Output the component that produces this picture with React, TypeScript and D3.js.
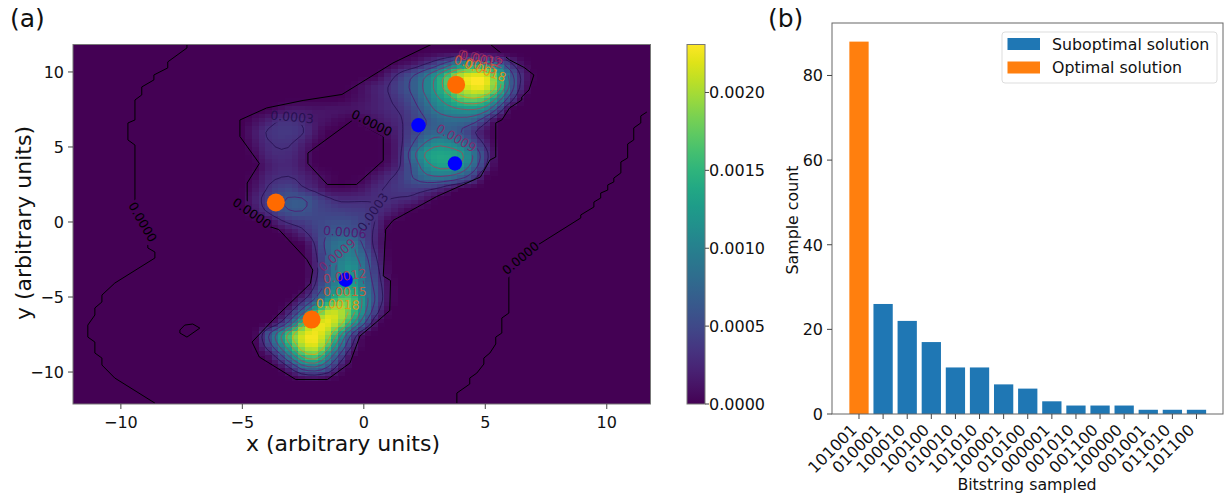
import React from "react";
import * as d3 from "d3";

const W = 1226, H = 495;

// ---------- panel (b) data ----------
const bitstrings = ["101001","010001","100010","100100","010010","101010","100001","010100","000001","001010","001100","100000","001001","011010","101100"];
const sampleCounts = [88,26,22,17,11,11,7,6,3,2,2,2,1,1,1];
const countTicks = [0,20,40,60,80];
const legendLabels = ["Suboptimal solution","Optimal solution"];

// ---------- panel (a) data: density, units of 1e-5 ----------
const gridX = [-6,-5.5,-5,-4.5,-4,-3.5,-3,-2.5,-2,-1.5,-1,-.5,0,.5,1,1.5,2,2.5,3,3.5,4,4.5,5,5.5,6,6.5,7,7.5];
const gridY = [12,11.25,10.5,9.75,9,8.25,7.5,6.75,6,5.25,4.5,3.75,3,2.25,1.5,.75,0,-.75,-1.5,-2.25,-3,-3.75,-4.5,-5.25,-6,-6.75,-7.5,-8.25,-9,-9.75,-10.5,-11.25];
const density = [
[0,0,0,0,0,0,0,0,0,0,0,0,0,0,0,0,0,0,2,3,3,3,2,0,0,0,0,0],
[0,0,0,0,0,0,0,0,0,0,0,0,0,0,0,0,0,3,6,8,10,10,8,5,2,0,0,0],
[0,0,0,0,0,0,0,0,0,0,0,0,0,0,0,8,15,30,50,80,110,125,120,85,40,10,0,0],
[0,0,0,0,0,0,0,0,0,0,0,0,0,2,18,38,58,85,120,165,205,222,215,160,80,25,2,0],
[0,0,0,0,0,0,0,0,0,0,0,2,10,20,30,48,65,95,130,170,205,225,220,170,85,22,0,0],
[0,0,0,0,0,0,0,0,0,0,1,6,12,20,28,40,58,85,115,140,170,180,165,115,50,5,0,0],
[0,0,0,0,1,8,14,14,12,12,12,12,15,20,26,32,48,70,95,110,118,120,105,55,5,0,0,0],
[0,0,0,8,18,30,31,26,15,10,5,1,5,12,20,28,42,58,72,80,80,72,40,4,0,0,0,0],
[0,0,2,16,31,37,37,31,14,2,0,0,0,2,10,26,46,65,75,72,60,35,12,1,0,0,0,0],
[0,0,0,12,27,32,31,20,5,0,0,0,0,0,6,25,58,90,112,108,90,58,24,1,0,0,0,0],
[0,0,0,6,23,28,26,15,1,0,0,0,0,0,6,28,78,122,136,134,126,88,40,3,0,0,0,0],
[0,0,0,1,16,24,24,14,2,0,0,0,0,1,10,30,65,105,126,128,114,78,32,0,0,0,0,0],
[0,0,0,6,22,29,30,22,12,5,1,1,3,14,26,38,60,80,88,84,70,42,5,0,0,0,0,0],
[0,0,1,12,30,42,45,32,22,8,6,7,14,26,32,38,40,38,30,16,3,0,0,0,0,0,0,0],
[0,0,2,20,38,55,63,62,48,35,27,27,28,29,30,27,24,12,2,0,0,0,0,0,0,0,0,0],
[0,0,0,14,32,50,60,60,50,45,42,40,38,30,22,10,2,0,0,0,0,0,0,0,0,0,0,0],
[0,0,0,0,3,22,35,40,48,52,55,52,42,28,5,0,0,0,0,0,0,0,0,0,0,0,0,0],
[0,0,0,0,0,1,10,24,42,60,68,62,45,24,0,0,0,0,0,0,0,0,0,0,0,0,0,0],
[0,0,0,0,0,0,0,3,32,70,88,92,55,22,1,0,0,0,0,0,0,0,0,0,0,0,0,0],
[0,0,0,0,0,0,0,0,25,65,92,100,70,30,2,0,0,0,0,0,0,0,0,0,0,0,0,0],
[0,0,0,0,0,0,0,0,22,62,100,115,80,38,4,0,0,0,0,0,0,0,0,0,0,0,0,0],
[0,0,0,0,0,0,0,0,25,65,105,125,85,45,8,0,0,0,0,0,0,0,0,0,0,0,0,0],
[0,0,0,0,0,0,0,5,38,82,125,140,95,52,12,0,0,0,0,0,0,0,0,0,0,0,0,0],
[0,0,0,0,0,0,5,30,70,125,175,170,110,55,12,0,0,0,0,0,0,0,0,0,0,0,0,0],
[0,0,0,0,0,3,30,80,150,205,205,165,100,38,4,0,0,0,0,0,0,0,0,0,0,0,0,0],
[0,0,0,0,3,28,80,160,212,222,192,132,65,10,0,0,0,0,0,0,0,0,0,0,0,0,0,0],
[0,0,0,3,50,105,170,215,226,198,132,58,5,0,0,0,0,0,0,0,0,0,0,0,0,0,0,0],
[0,0,0,2,38,90,150,205,218,168,95,30,0,0,0,0,0,0,0,0,0,0,0,0,0,0,0,0],
[0,0,0,0,5,40,95,150,165,112,50,5,0,0,0,0,0,0,0,0,0,0,0,0,0,0,0,0],
[0,0,0,0,0,3,30,70,80,55,15,0,0,0,0,0,0,0,0,0,0,0,0,0,0,0,0,0],
[0,0,0,0,0,0,0,3,5,2,0,0,0,0,0,0,0,0,0,0,0,0,0,0,0,0,0,0],
[0,0,0,0,0,0,0,0,0,0,0,0,0,0,0,0,0,0,0,0,0,0,0,0,0,0,0,0],
];

const contourLevels = [30,60,90,120,150,180];
const xTicksA = [-10,-5,0,5,10];
const yTicksA = [-10,-5,0,5,10];
const cbTicks = [0,0.0005,0.001,0.0015,0.002];

const optimalPoints: [number,number][] = [[3.8,9.15],[-3.62,1.3],[-2.15,-6.5]];
const otherPoints: [number,number][] = [[2.25,6.45],[3.75,3.9],[-.75,-3.85]];

// zero-level contour traces (data units)
const zeroOuter: [number,number][] = [[5.2,11.85],[6,10.8],[6.6,10.3],[7,9.8],[6.8,8.8],[6.5,8.33],[6.5,8.13],[6,7.6],[5.68,6.8],[5.43,6.6],[5.43,4.33],[5.19,4.13],[4.8,3],[3,1.7],[1.2,.1],[.9,-.5],[.8,-3.6],[1.1,-3.9],[1.07,-5.9],[.5,-6.7],[-.16,-7.6],[-.57,-9.4],[-1.5,-10.5],[-2.8,-10.5],[-4.3,-9],[-4.6,-8],[-3.6,-6.3],[-2.2,-4.1],[-2.1,-3.2],[-2.35,-2.5],[-3.5,-.5],[-3.9,-.3],[-4.8,1.3],[-4.8,2.6],[-4.3,3.9],[-5.1,5.7],[-5.1,6.8],[-4,7.6],[-2.5,8.1],[-.9,8.5],[1.2,10.6],[2.8,11.85]];
const zeroHole: [number,number][] = [[-2.3,4.6],[-.45,6.8],[.8,5.7],[.8,4.1],[-.3,2.5],[-1.5,2.5],[-2.3,3.9],[-2.3,4.6]];
const zeroFarLeftTop: [number,number][] = [[-7.28,11.87],[-7.28,11.6],[-8.07,10.67],[-8.07,10.27],[-8.64,9.8],[-8.64,9.47],[-9.14,9],[-9.14,8.47],[-9.42,8.13],[-9.42,6.8],[-9.71,6.6],[-9.71,5.47],[-9.42,5.13],[-9.42,1.27]];
const zeroFarLeftBottom: [number,number][] = [[-8.89,-1.53],[-8.89,-1.73],[-8.6,-2],[-8.6,-2.4],[-10.25,-4.07],[-10.78,-4.87],[-10.78,-5.33],[-11.07,-5.73],[-11.07,-6.2],[-11.36,-6.87],[-11.36,-7.67],[-11.07,-8],[-11.07,-8.73],[-10.78,-9.07],[-10.78,-9.53],[-10.25,-10.4],[-8.6,-12.07]];
const zeroLoop: [number,number][] = [[-7.57,-7.2],[-7.37,-6.87],[-7.04,-6.8],[-6.75,-7.07],[-7.28,-7.67],[-7.57,-7.4],[-7.57,-7.2]];
const zeroFarRightTop: [number,number][] = [[11.65,7.33],[11.4,7.07],[11.4,6.6],[11.11,6.27],[11.11,5.47],[10.86,5.2],[10.86,4.27],[10.58,4],[10.58,3.27],[10.29,2.93],[10.29,2.67],[10.04,2.47],[10.04,2.13],[9.75,1.93],[9.75,1.6],[9.47,1.33],[9.47,1],[8.93,.47],[8.93,.27],[7.16,-1.53]];
const zeroFarRightBottom: [number,number][] = [[5.97,-3.07],[5.97,-6.07],[5.68,-6.4],[5.68,-7.4],[5.43,-7.67],[5.43,-8.13],[5.19,-8.73],[4.94,-9.07],[4.94,-9.47],[4.65,-10.07],[4.36,-10.4],[4.36,-10.8],[3.83,-11.4],[3.83,-12.07]];
const zeroTraces = [zeroOuter,zeroHole,zeroFarLeftTop,zeroFarLeftBottom,zeroLoop,zeroFarRightTop,zeroFarRightBottom];

// contour labels: text, level, data position, rotation in degrees
const contourLabels: [string,number,number,number,number][] = [
  ["0.0003",30,-2.95,7,5],
  ["0.0000",0,.33,6.6,27],
  ["0.0009",90,3.8,5.6,30],
  ["0.0003",30,.37,.67,-55],
  ["0.0000",0,-4.6,.6,35],
  ["0.0006",60,-.78,-.67,5],
  ["0.0009",90,-1.1,-2.2,-40],
  ["0.0012",120,-.78,-3.6,-8],
  ["0.0015",150,-.78,-4.6,0],
  ["0.0018",180,-1.07,-5.47,3],
  ["0.0006",60,4.9,11,8],
  ["0.0009",90,4.75,10.95,10],
  ["0.0012",120,4.85,10.85,12],
  ["0.0015",150,4.6,10.5,14],
  ["0.0018",180,5,10.1,20],
  ["0.0000",0,-9.1,0,60],
  ["0.0000",0,6.45,-2.4,-40],
];

// ---------- layout ----------
const ax = { l: 73, r: 650.5, t: 44.5, b: 404 };
const cb = { l: 687, r: 705, t: 44.5, b: 404 };
const bx = { l: 832, r: 1223, t: 23, b: 414 };
const FONT = "'DejaVu Sans', sans-serif";
const xA = d3.scaleLinear().domain([-11.97, 11.8]).range([ax.l, ax.r]);
const yA = d3.scaleLinear().domain([-12.13, 11.83]).range([ax.b, ax.t]);
const vMax = 230.8;
const colorA = (v: number) => d3.interpolateViridis(Math.max(0, Math.min(1, v / vMax)));
const cbScale = d3.scaleLinear().domain([0, 0.002308]).range([cb.b, cb.t]);
const xB = d3.scaleLinear().domain([-1.12, 15.1]).range([bx.l, bx.r]);
const yB = d3.scaleLinear().domain([0, 92.4]).range([bx.b, bx.t]);
const levelColor = (l: number) => l === 0 ? "#000" : d3.interpolateInferno(l / 240);

// ---------- pixel grid of the image: the drawn surface is a resampling of `density` ----------
const CELL = 0.2727;
function cr(a: number, b: number, c: number, d: number, t: number) {
  return 0.5 * (2 * b + (c - a) * t + (2 * a - 5 * b + 4 * c - d) * t * t + (3 * b - a - 3 * c + d) * t * t * t);
}
function sample(x: number, y: number) {
  const fx = (x - gridX[0]) / 0.5, fy = (gridY[0] - y) / 0.75;
  const i = Math.floor(fx), j = Math.floor(fy);
  if (i < 0 || j < 0 || i >= gridX.length - 1 || j >= gridY.length - 1) return 0;
  const at = (r: number, c: number) => {
    const rr = Math.max(0, Math.min(gridY.length - 1, r));
    const cc = Math.max(0, Math.min(gridX.length - 1, c));
    return density[rr][cc];
  };
  const col = (r: number) => cr(at(r, i - 1), at(r, i), at(r, i + 1), at(r, i + 2), fx - i);
  return Math.max(0, cr(col(j - 1), col(j), col(j + 1), col(j + 2), fy - j));
}
const nCols = Math.ceil((11.8 + 11.97) / CELL);
const nRows = Math.ceil((11.83 + 12.13) / CELL);
const cells: number[] = [];
for (let r = 0; r < nRows; r++) for (let c = 0; c < nCols; c++) {
  cells.push(sample(-11.97 + (c + 0.5) * CELL, 11.83 - (r + 0.5) * CELL));
}
const contourGen = d3.contours().size([nCols, nRows]).thresholds(contourLevels);
const contourPolys = contourGen(cells);
const geoPath = (mp: any) => {
  let s = "";
  for (const poly of mp.coordinates) for (const ring of poly) {
    s += "M" + ring.map(([cx, cy]: number[]) => `${xA(-11.97 + cx * CELL).toFixed(1)},${yA(11.83 - cy * CELL).toFixed(1)}`).join("L") + "Z";
  }
  return s;
};
const lineA = d3.line<[number,number]>().x(d => xA(d[0])).y(d => yA(d[1]));
const minus = (n: number) => String(n).replace("-", "\u2212");

export default function App() {
  const cbStops = d3.range(0, 1.001, 0.05);
  return (
    <svg width={W} height={H} viewBox={`0 0 ${W} ${H}`} style={{ position: "absolute", left: 0, top: 0, background: "#fff" }} fontFamily={FONT}>
      <defs>
        <clipPath id="axClip"><rect x={ax.l} y={ax.t} width={ax.r - ax.l} height={ax.b - ax.t} /></clipPath>
        <linearGradient id="cbGrad" x1="0" y1="1" x2="0" y2="0">
          {cbStops.map(t => <stop key={t} offset={t} stopColor={d3.interpolateViridis(t)} />)}
        </linearGradient>
        <mask id="labelMask" maskUnits="userSpaceOnUse" x={0} y={0} width={W} height={H}>
          <rect x={0} y={0} width={W} height={H} fill="#fff" />
          {contourLabels.map((l, i) => (
            <rect key={i} x={-23} y={-7} width={46} height={14} fill="#000"
              transform={`translate(${xA(l[2])},${yA(l[3])}) rotate(${l[4]})`} />
          ))}
        </mask>
      </defs>

      {/* panel a */}
      <text x={10} y={27} fontSize={25} fill="#111">(a)</text>
      <g clipPath="url(#axClip)">
        <rect x={ax.l} y={ax.t} width={ax.r - ax.l} height={ax.b - ax.t} fill={d3.interpolateViridis(0)} />
        <g shapeRendering="crispEdges">
          {cells.map((v, idx) => {
            if (v < 0.8) return null;
            const c = idx % nCols, r = Math.floor(idx / nCols);
            const x0 = xA(-11.97 + c * CELL), x1 = xA(-11.97 + (c + 1) * CELL);
            const y0 = yA(11.83 - r * CELL), y1 = yA(11.83 - (r + 1) * CELL);
            return <rect key={idx} x={x0} y={y0} width={x1 - x0 + 0.5} height={y1 - y0 + 0.5} fill={colorA(v)} />;
          })}
        </g>
        <g mask="url(#labelMask)" fill="none">
          {contourPolys.map((mp, i) => (
            <path key={i} d={geoPath(mp)} stroke={levelColor(contourLevels[i])} strokeWidth={1} strokeOpacity={0.7} />
          ))}
          {zeroTraces.map((t, i) => <path key={i} d={lineA(t) || ""} stroke="#000" strokeWidth={1} />)}
        </g>
        {optimalPoints.map((p, i) => <circle key={i} cx={xA(p[0])} cy={yA(p[1])} r={9} fill="#ff6a00" />)}
        {otherPoints.map((p, i) => <circle key={i} cx={xA(p[0])} cy={yA(p[1])} r={7.2} fill="#0000ff" />)}
        {contourLabels.map((l, i) => (
          <text key={i} fontSize={12.5} textAnchor="middle" dominantBaseline="central" fill={levelColor(l[1])} fillOpacity={l[1] === 0 ? 1 : 0.85}
            transform={`translate(${xA(l[2])},${yA(l[3])}) rotate(${l[4]})`}>{l[0]}</text>
        ))}
      </g>
      <rect x={ax.l} y={ax.t} width={ax.r - ax.l} height={ax.b - ax.t} fill="none" stroke="#777" strokeWidth={1} />
      {xTicksA.map(t => (
        <g key={t}>
          <line x1={xA(t)} x2={xA(t)} y1={ax.b} y2={ax.b + 5} stroke="#444" />
          <text x={xA(t)} y={ax.b + 24} fontSize={16} textAnchor="middle" fill="#111">{minus(t)}</text>
        </g>
      ))}
      {yTicksA.map(t => (
        <g key={t}>
          <line x1={ax.l - 5} x2={ax.l} y1={yA(t)} y2={yA(t)} stroke="#444" />
          <text x={ax.l - 9} y={yA(t) + 6} fontSize={16} textAnchor="end" fill="#111">{minus(t)}</text>
        </g>
      ))}
      <text x={343} y={451} fontSize={22} textAnchor="middle" fill="#111">x (arbitrary units)</text>
      <text transform="translate(31,223) rotate(-90)" fontSize={22} textAnchor="middle" fill="#111">y (arbitrary units)</text>

      {/* colour bar */}
      <rect x={cb.l} y={cb.t} width={cb.r - cb.l} height={cb.b - cb.t} fill="url(#cbGrad)" stroke="#777" strokeWidth={1} />
      {cbTicks.map(t => (
        <g key={t}>
          <line x1={cb.r} x2={cb.r + 4} y1={cbScale(t)} y2={cbScale(t)} stroke="#444" />
          <text x={cb.r + 4} y={cbScale(t) + 6} fontSize={16} fill="#111">{t.toFixed(4)}</text>
        </g>
      ))}

      {/* panel b */}
      <text x={768} y={27} fontSize={25} fill="#111">(b)</text>
      {sampleCounts.map((v, i) => (
        <rect key={i} x={xB(i - 0.4)} y={yB(v)} width={xB(i + 0.4) - xB(i - 0.4)} height={yB(0) - yB(v)} fill={i === 0 ? "#ff7f0e" : "#1f77b4"} />
      ))}
      <rect x={bx.l} y={bx.t} width={bx.r - bx.l} height={bx.b - bx.t} fill="none" stroke="#666" strokeWidth={1} />
      {countTicks.map(t => (
        <g key={t}>
          <line x1={bx.l - 5} x2={bx.l} y1={yB(t)} y2={yB(t)} stroke="#444" />
          <text x={bx.l - 9} y={yB(t) + 6} fontSize={16} textAnchor="end" fill="#111">{t}</text>
        </g>
      ))}
      {bitstrings.map((b, i) => (
        <g key={b}>
          <line x1={xB(i)} x2={xB(i)} y1={bx.b} y2={bx.b + 5} stroke="#444" />
          <text fontSize={16} textAnchor="end" fill="#111" transform={`translate(${xB(i) - 1},${bx.b + 17}) rotate(-45)`}>{b}</text>
        </g>
      ))}
      <text x={1027} y={490} fontSize={15.8} textAnchor="middle" fill="#111">Bitstring sampled</text>
      <text transform="translate(798,220) rotate(-90)" fontSize={15.8} textAnchor="middle" fill="#111">Sample count</text>

      {/* legend */}
      <rect x={1002} y={32} width={215} height={51} rx={3} fill="#fff" fillOpacity={0.8} stroke="#ddd" />
      {legendLabels.map((l, i) => (
        <g key={l}>
          <rect x={1007.5} y={38 + i * 23.5} width={32.5} height={12} fill={i === 0 ? "#1f77b4" : "#ff7f0e"} />
          <text x={1052} y={49.5 + i * 23.5} fontSize={15.8} fill="#111">{l}</text>
        </g>
      ))}
    </svg>
  );
}
